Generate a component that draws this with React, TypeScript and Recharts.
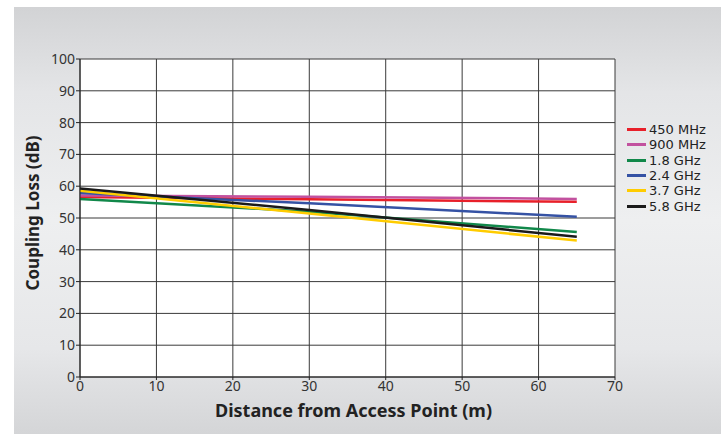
import { LineChart, Line, XAxis, YAxis, CartesianGrid } from 'recharts';

// distance from the access point (m)
const distance = [0, 30, 65];

// coupling loss (dB) per band, read at the distances above
const mhz450 = [56.6, 55.9, 55.1];
const mhz900 = [57.1, 56.7, 56.0];
const ghz18 = [56.0, 52.0, 45.6];
const ghz24 = [57.9, 54.6, 50.4];
const ghz37 = [58.6, 51.4, 42.9];
const ghz58 = [59.3, 52.5, 44.1];

const xTicks = [0, 10, 20, 30, 40, 50, 60, 70];
const yTicks = [0, 10, 20, 30, 40, 50, 60, 70, 80, 90, 100];

const series = [
  { key: 'mhz450', name: '450 MHz', color: '#e8202a', values: mhz450 },
  { key: 'mhz900', name: '900 MHz', color: '#c2519f', values: mhz900 },
  { key: 'ghz18', name: '1.8 GHz', color: '#11884a', values: ghz18 },
  { key: 'ghz24', name: '2.4 GHz', color: '#3552a4', values: ghz24 },
  { key: 'ghz37', name: '3.7 GHz', color: '#ffcc00', values: ghz37 },
  { key: 'ghz58', name: '5.8 GHz', color: '#1a1a1a', values: ghz58 },
];

const data = distance.map((d, i) => {
  const row: Record<string, number> = { d };
  series.forEach((s) => {
    row[s.key] = s.values[i];
  });
  return row;
});

const font = '"Noto Sans", sans-serif';
const tickStyle = { fill: '#333', fontSize: 14, fontFamily: font };

export default function App() {
  return (
    <div style={{ position: 'absolute', left: 0, top: 0, width: 721, height: 434, background: '#fff' }}>
      {/* grey panel behind the chart */}
      <div
        style={{
          position: 'absolute',
          left: 14,
          top: 7,
          right: 0,
          bottom: 0,
          background: 'linear-gradient(#d2d3d5 0%, #e4e5e7 20%, #eeeff0 50%, #e6e7e9 80%, #d4d5d7 100%)',
        }}
      />
      <div style={{ position: 'absolute', left: 0, top: 0 }}>
        <LineChart width={721} height={434} data={data} margin={{ top: 59, right: 106, bottom: 12, left: 20 }}>
          <CartesianGrid stroke="#3a3a3a" fill="#fff" />
          <XAxis
            dataKey="d"
            type="number"
            domain={[0, 70]}
            ticks={xTicks}
            height={45}
            stroke="#222"
            tickSize={3}
            tickMargin={1}
            tick={tickStyle}
            label={{
              value: 'Distance from Access Point (m)',
              position: 'insideBottom',
              offset: 5,
              dx: 6,
              style: { fontFamily: font, fontSize: 18, fontWeight: 700, fill: '#222' },
            }}
          />
          <YAxis
            type="number"
            domain={[0, 100]}
            ticks={yTicks}
            width={60}
            stroke="#222"
            tickSize={4}
            tickMargin={1}
            tick={tickStyle}
            label={{
              value: 'Coupling Loss (dB)',
              angle: -90,
              position: 'insideLeft',
              offset: 13,
              dy: -5,
              style: { textAnchor: 'middle', fontFamily: font, fontSize: 17, fontWeight: 700, fill: '#222' },
            }}
          />
          {series.map((s) => (
            <Line
              key={s.key}
              dataKey={s.key}
              name={s.name}
              type="linear"
              stroke={s.color}
              strokeWidth={2.5}
              dot={false}
              isAnimationActive={false}
            />
          ))}
        </LineChart>
      </div>
      {/* legend */}
      <div
        style={{
          position: 'absolute',
          left: 627,
          top: 122,
          fontFamily: '"DejaVu Sans", sans-serif',
          fontSize: 13,
          color: '#222',
        }}
      >
        {series.map((s) => (
          <div key={s.key} style={{ display: 'flex', alignItems: 'center', height: 15.3 }}>
            <span style={{ display: 'block', width: 19, height: 3, background: s.color, marginRight: 3 }} />
            <span style={{ display: 'block', height: 15, lineHeight: '15px', whiteSpace: 'nowrap' }}>{s.name}</span>
          </div>
        ))}
      </div>
    </div>
  );
}
